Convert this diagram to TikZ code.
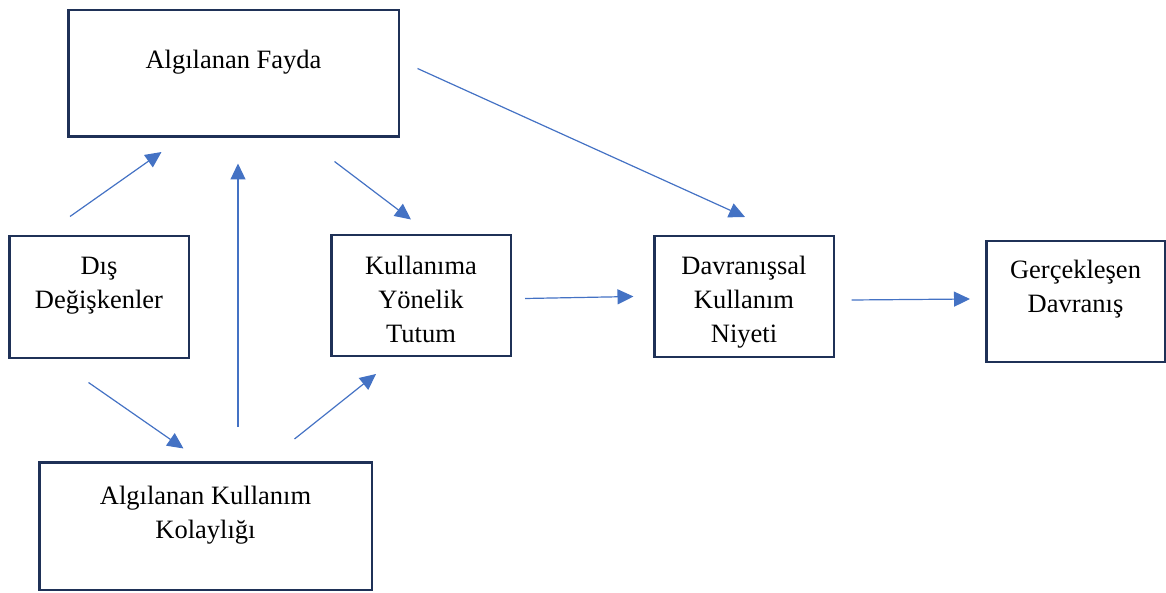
\documentclass[tikz,border=0pt]{standalone}
\usepackage{fontspec}
\setmainfont{Liberation Serif}
\usepackage{tikz}
\usetikzlibrary{arrows.meta,positioning}
\definecolor{boxline}{HTML}{1F3157}
\definecolor{arrowblue}{HTML}{4472C4}

\begin{document}
\begin{tikzpicture}[x=1pt,y=-1pt,
  box/.style={draw=boxline,line width=2.5pt,fill=white,inner sep=0pt},
  txt/.style={align=center,inner sep=0pt,font=\fontsize{26.5}{34}\selectfont},
  link/.style={-{Triangle[length=16pt,width=15pt]},arrowblue,line width=1.2pt}]
  \useasboundingbox (0,0) rectangle (1166,593);
  % boxes
  \node[box,minimum width=330.5pt,minimum height=126.5pt] (fayda) at (233.5,73.5) {};
  \node[box,minimum width=179.5pt,minimum height=121.5pt] (dis) at (99,297) {};
  \node[box,minimum width=179.5pt,minimum height=120.5pt] (tutum) at (421,295.5) {};
  \node[box,minimum width=179.5pt,minimum height=120.5pt] (niyet) at (744,296.5) {};
  \node[box,minimum width=178.5pt,minimum height=120.5pt] (gercek) at (1075.5,301.5) {};
  \node[box,minimum width=332.5pt,minimum height=127.5pt] (kolay) at (205.5,526) {};
  % texts
  \node[txt] (fayda-t) at (233.5,62) {Algılanan Fayda};
  \node[txt] (dis-t) at (99,286) {Dış\\Değişkenler};
  \node[txt] (tutum-t) at (421,299.5) {Kullanıma\\Yönelik\\Tutum};
  \node[txt] (niyet-t) at (744,302) {Davranışsal\\Kullanım\\Niyeti};
  \node[txt] (gercek-t) at (1075.5,289) {Gerçekleşen\\Davranış};
  \node[txt] (kolay-t) at (205.5,515) {Algılanan Kullanım\\Kolaylığı};
  % arrow ends
  \coordinate (a1) at (70,216.5);   \coordinate (b1) at (161.5,152);
  \coordinate (a2) at (238,427);    \coordinate (b2) at (238,163.5);
  \coordinate (a3) at (334.5,161.5);\coordinate (b3) at (411,219.5);
  \coordinate (a4) at (417.5,68.5); \coordinate (b4) at (745,217);
  \coordinate (a5) at (88.5,382.5); \coordinate (b5) at (183.5,448.5);
  \coordinate (a6) at (294.5,439);  \coordinate (b6) at (376,374);
  \coordinate (a7) at (525,298.5);  \coordinate (b7) at (633.5,296.5);
  \coordinate (a8) at (851.5,300);  \coordinate (b8) at (970,299);
  \foreach \i in {1,...,8}{\draw[link] (a\i) -- (b\i);}
\end{tikzpicture}
\end{document}
